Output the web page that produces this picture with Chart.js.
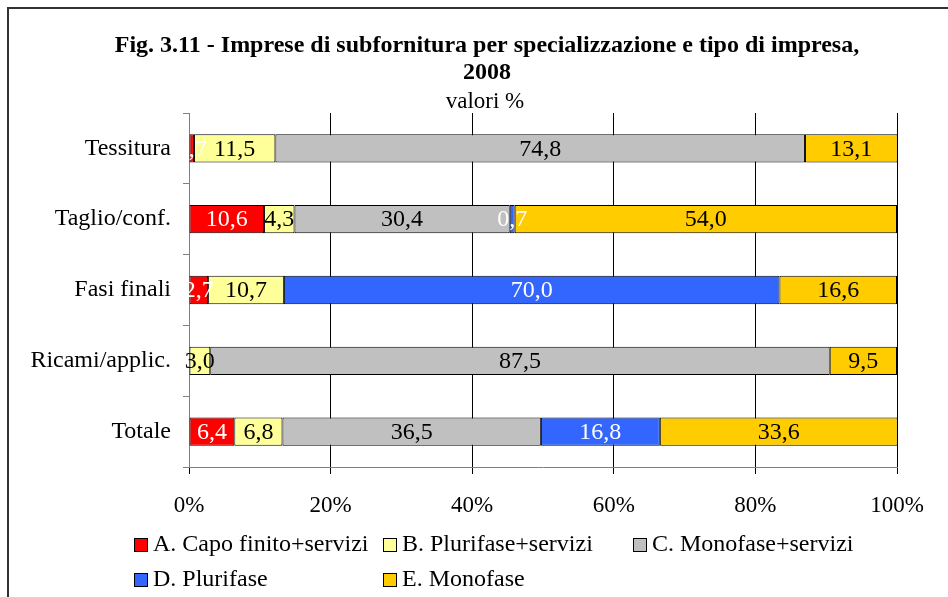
<!DOCTYPE html>
<html>
<head>
<meta charset="utf-8">
<script src="https://cdn.jsdelivr.net/npm/chart.js@4.4.0/dist/chart.umd.min.js"></script>
<style>
  html, body { margin: 0; padding: 0; background: #fff; }
  #box { position: relative; width: 948px; height: 597px; }
</style>
</head>
<body>
<div id="box"><canvas id="chartBox" width="948" height="597"></canvas></div>
<script>
// categories (top to bottom)
const categories = ['Tessitura', 'Taglio/conf.', 'Fasi finali', 'Ricami/applic.', 'Totale'];

// series values, %
const capoFinito = [0.7, 10.6, 2.7, 0, 6.4];
const plurifaseServizi = [11.5, 4.3, 10.7, 3.0, 6.8];
const monofaseServizi = [74.8, 30.4, 0, 87.5, 36.5];
const plurifase = [0, 0.7, 70.0, 0, 16.8];
const monofase = [13.1, 54.0, 16.6, 9.5, 33.6];

const seriesNames = ['A. Capo finito+servizi', 'B. Plurifase+servizi', 'C. Monofase+servizi', 'D. Plurifase', 'E. Monofase'];
const seriesColors = ['#FF0000', '#FFFF99', '#C0C0C0', '#3366FF', '#FFCC00'];
const labelColors = ['#FFFFFF', '#000000', '#000000', '#FFFFFF', '#000000'];

const tickValues = [0, 20, 40, 60, 80, 100];

const FONT = '"Liberation Serif", "Times New Roman", serif';

const series = [capoFinito, plurifaseServizi, monofaseServizi, plurifase, monofase];

// title, frame and legend drawn by hand
const decorPlugin = {
  id: 'decor',
  afterDraw(chart) {
    const ctx = chart.ctx;
    ctx.save();
    // frame
    ctx.strokeStyle = '#333333';
    ctx.lineWidth = 2;
    ctx.beginPath();
    ctx.moveTo(8, 600);
    ctx.lineTo(8, 8);
    ctx.lineTo(948, 8);
    ctx.stroke();

    // title
    ctx.fillStyle = '#000';
    ctx.textAlign = 'center';
    ctx.textBaseline = 'middle';
    ctx.font = 'bold 24px ' + FONT;
    ctx.fillText('Fig. 3.11 - Imprese di subfornitura per specializzazione e tipo di impresa,', 487, 46);
    ctx.fillText('2008', 487, 73);
    ctx.font = '23px ' + FONT;
    ctx.fillText('valori %', 485, 102);

    // legend
    const cols = [134, 383, 633];
    const rows = [544, 579];
    ctx.textAlign = 'left';
    ctx.font = '24px ' + FONT;
    seriesNames.forEach((name, i) => {
      const x = cols[i % 3];
      const y = rows[Math.floor(i / 3)];
      ctx.fillStyle = seriesColors[i];
      ctx.fillRect(x, y - 6, 13, 13);
      ctx.strokeStyle = '#000';
      ctx.lineWidth = 1;
      ctx.strokeRect(x + 0.5, y - 5.5, 13, 13);
      ctx.fillStyle = '#000';
      ctx.fillText(name, x + 19, y + 1);
    });
    ctx.restore();
  }
};

// value labels in the middle of each segment
const valueLabels = {
  id: 'valueLabels',
  afterDatasetsDraw(chart) {
    const ctx = chart.ctx;
    ctx.save();
    ctx.font = '24px ' + FONT;
    ctx.textAlign = 'center';
    ctx.textBaseline = 'middle';
    chart.data.datasets.forEach((ds, i) => {
      const meta = chart.getDatasetMeta(i);
      meta.data.forEach((bar, j) => {
        const v = ds.data[j];
        if (!v) return;
        ctx.fillStyle = labelColors[i];
        ctx.fillText(v.toFixed(1).replace('.', ','), (bar.x + bar.base) / 2, bar.y + 1);
      });
    });
    ctx.restore();
  }
};

const chartBox = document.querySelector('#chartBox').getContext('2d');

new Chart(chartBox, {
  type: 'bar',
  data: {
    labels: categories,
    datasets: series.map((values, i) => ({
      label: seriesNames[i],
      data: values,
      backgroundColor: seriesColors[i],
      borderColor: '#000',
      borderWidth: 1,
      borderSkipped: false,
      barPercentage: 0.4,
      categoryPercentage: 1
    }))
  },
  options: {
    indexAxis: 'y',
    responsive: false,
    animation: false,
    layout: { padding: { top: 113, right: 51, bottom: 0, left: 0 } },
    plugins: {
      legend: { display: false },
      title: { display: false },
      tooltip: { enabled: false }
    },
    scales: {
      x: {
        stacked: true,
        min: 0,
        max: 100,
        afterBuildTicks(scale) {
          scale.ticks = tickValues.map(v => ({ value: v }));
        },
        afterFit(scale) { scale.height = 130; },
        ticks: {
          color: '#000',
          font: { family: FONT, size: 23 },
          padding: 18,
          callback: v => v + '%'
        },
        grid: {
          color: ctx => ctx.index === 0 ? '#808080' : '#000',
          lineWidth: 1,
          tickLength: 7,
          tickColor: '#000'
        },
        border: { color: '#808080', width: 1 }
      },
      y: {
        stacked: true,
        afterFit(scale) { scale.width = 189; },
        ticks: {
          color: '#000',
          font: { family: FONT, size: 24 },
          padding: 12
        },
        grid: {
          offset: true,
          drawOnChartArea: false,
          tickLength: 6,
          color: '#808080'
        },
        border: { color: '#808080', width: 1 }
      }
    }
  },
  plugins: [decorPlugin, valueLabels]
});
</script>
</body>
</html>
